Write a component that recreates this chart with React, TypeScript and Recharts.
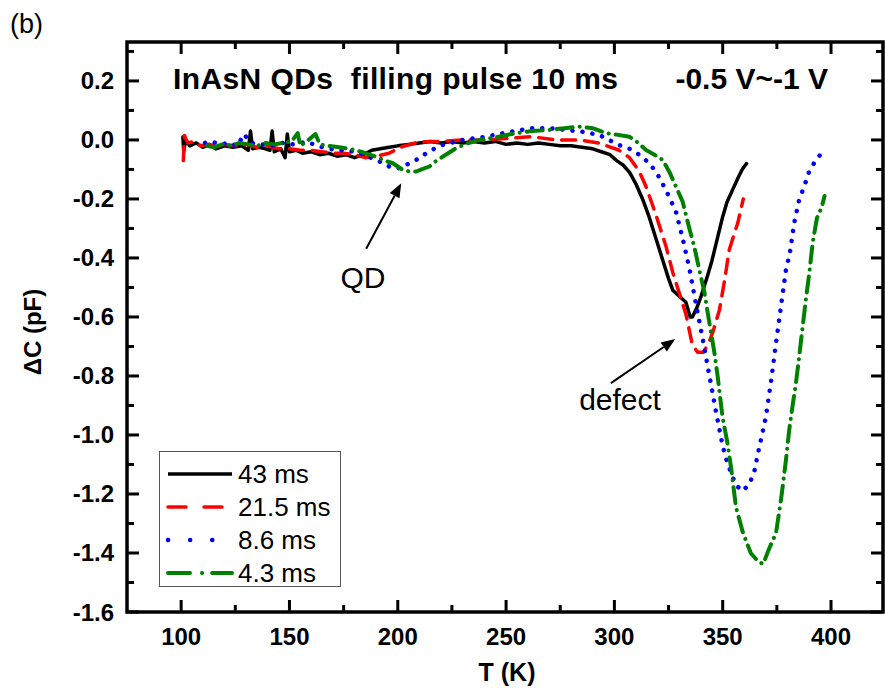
import { LineChart, Line, XAxis, YAxis, Legend, ReferenceLine } from 'recharts'

// temperature (K) and capacitance change (pF)
const T_43 = [100.8, 101.2, 102, 104, 107, 110, 113, 116, 120, 124, 128, 131, 132, 133, 136, 139, 141, 142, 143, 146, 148, 149, 150, 153, 156, 160, 164, 168, 172, 176, 180, 184, 188, 192, 196, 200, 205, 210, 215, 220, 225, 230, 235, 240, 245, 250, 255, 260, 265, 270, 275, 280, 285, 290, 294, 298, 301, 304, 307, 310, 313, 316, 319, 322, 325, 327, 330, 333, 335, 336, 338, 340, 343, 345, 348, 350, 352, 354.5, 357, 359, 361]
const C_43 = [0.01, -0.04, 0.0, -0.02, -0.01, -0.025, -0.015, -0.03, -0.02, -0.025, -0.02, -0.035, 0.03, -0.03, -0.025, -0.03, -0.035, 0.03, -0.04, -0.03, -0.06, 0.02, -0.04, -0.035, -0.045, -0.04, -0.05, -0.045, -0.055, -0.05, -0.06, -0.05, -0.035, -0.03, -0.025, -0.02, -0.015, -0.01, -0.005, -0.01, -0.005, -0.01, -0.005, -0.01, -0.005, -0.015, -0.01, -0.015, -0.01, -0.015, -0.02, -0.02, -0.025, -0.03, -0.04, -0.05, -0.07, -0.085, -0.11, -0.15, -0.2, -0.26, -0.33, -0.4, -0.47, -0.51, -0.53, -0.55, -0.6, -0.6, -0.57, -0.53, -0.46, -0.41, -0.32, -0.26, -0.21, -0.17, -0.13, -0.1, -0.08]

const T_215 = [101, 101.5, 103, 106, 109, 112, 116, 120, 125, 130, 135, 140, 145, 150, 155, 160, 165, 170, 175, 180, 185, 190, 196, 202, 210, 220, 230, 240, 250, 262, 273, 284, 293, 302, 307, 311.5, 314.6, 319, 323.8, 327, 330, 333, 336, 338.5, 341, 343.5, 345.5, 348.5, 351, 353, 357, 359.5]
const C_215 = [-0.07, 0.015, -0.01, -0.005, -0.02, -0.015, -0.02, -0.015, -0.02, -0.015, -0.025, -0.02, -0.03, -0.03, -0.035, -0.035, -0.04, -0.045, -0.045, -0.05, -0.06, -0.055, -0.045, -0.023, -0.006, -0.005, 0.0, 0.0, 0.005, 0.011, 0.0, 0.0, -0.011, -0.034, -0.06, -0.107, -0.158, -0.25, -0.36, -0.45, -0.52, -0.59, -0.695, -0.72, -0.72, -0.69, -0.65, -0.576, -0.47, -0.373, -0.28, -0.2]

const T_86 = [111, 114, 118, 122, 126, 129, 132, 137, 142, 147, 152, 158, 163, 168, 174, 181, 186, 191.5, 196, 199, 202, 205, 210, 214, 220.6, 230, 240.7, 250, 262, 270, 277.7, 285, 293, 302, 307, 311.5, 315.5, 319.2, 323.8, 328.4, 331.5, 334.6, 337.6, 340.7, 343.8, 346.9, 349.9, 352.2, 356.1, 359.2, 362.3, 364.6, 366.1, 368.1, 370, 372.3, 374.6, 376.9, 379.2, 381, 383, 385.3, 387.6, 389.9, 393, 396.9]
const C_86 = [-0.01, -0.005, -0.015, -0.01, -0.02, 0.02, -0.01, -0.015, -0.02, -0.01, -0.015, -0.006, -0.02, -0.03, -0.035, -0.04, -0.055, -0.073, -0.09, -0.096, -0.095, -0.08, -0.062, -0.04, -0.017, 0.0, 0.011, 0.025, 0.04, 0.04, 0.034, 0.028, 0.017, -0.017, -0.03, -0.05, -0.075, -0.107, -0.17, -0.243, -0.333, -0.435, -0.554, -0.672, -0.797, -0.921, -1.034, -1.096, -1.17, -1.19, -1.166, -1.124, -1.068, -1.002, -0.936, -0.819, -0.689, -0.565, -0.44, -0.384, -0.282, -0.203, -0.158, -0.107, -0.068, -0.034]

const T_43b = [112, 115, 119, 123, 127, 131, 135, 139, 143, 147, 151, 153.8, 155, 158, 162, 164, 168, 173, 178, 183, 187, 190, 194, 197.7, 202, 205.4, 208.4, 211, 214.6, 217, 220.7, 226.9, 232, 237.7, 246, 254.6, 262, 270, 277, 283.8, 290, 296, 301, 306.9, 311, 314.6, 318.5, 322.3, 325.5, 328.4, 331.5, 334.6, 336.9, 339.2, 341.5, 343.4, 346.1, 347.6, 349.9, 352.2, 353.8, 356.1, 359.2, 363, 366.5, 368.7, 371.5, 374.6, 376.9, 379.2, 380.7, 382.2, 383.8, 385.3, 386.8, 388.4, 390, 391.5, 393.5, 395.8, 397]
const C_43b = [-0.02, -0.025, -0.015, -0.02, -0.01, -0.015, -0.02, -0.01, -0.015, -0.01, -0.005, 0.023, -0.02, -0.005, 0.02, -0.015, -0.02, -0.025, -0.03, -0.04, -0.05, -0.057, -0.07, -0.079, -0.1, -0.107, -0.107, -0.1, -0.09, -0.075, -0.057, -0.028, -0.012, 0.0, 0.01, 0.023, 0.03, 0.034, 0.04, 0.045, 0.04, 0.023, 0.018, 0.011, -0.01, -0.034, -0.05, -0.068, -0.11, -0.158, -0.209, -0.3, -0.362, -0.44, -0.514, -0.6, -0.718, -0.797, -0.938, -1.028, -1.107, -1.243, -1.328, -1.401, -1.43, -1.437, -1.384, -1.333, -1.22, -1.085, -0.983, -0.904, -0.825, -0.735, -0.64, -0.54, -0.45, -0.35, -0.265, -0.226, -0.19]

const X_TICKS = [100, 125, 150, 175, 200, 225, 250, 275, 300, 325, 350, 375, 400]
const Y_TICKS = [-1.6, -1.5, -1.4, -1.3, -1.2, -1.1, -1.0, -0.9, -0.8, -0.7, -0.6, -0.5, -0.4, -0.3, -0.2, -0.1, 0.0, 0.1, 0.2, 0.3]

const toRows = (t: number[], c: number[]) => t.map((x, i) => ({ t: x, c: c[i] }))

const SERIES = [
    { name: '43 ms', data: toRows(T_43, C_43), color: '#000000', dash: undefined, legendDash: undefined, width: 3.5 },
    { name: '21.5 ms', data: toRows(T_215, C_215), color: '#ff0000', dash: '14 9', legendDash: '18 18', width: 3.5 },
    { name: '8.6 ms', data: toRows(T_86, C_86), color: '#0000ff', dash: '0.1 10', legendDash: '0.1 22', width: 4.5 },
    { name: '4.3 ms', data: toRows(T_43b, C_43b), color: '#008000', dash: '16 7 0.1 7', legendDash: '22 12 0.1 10', width: 4 },
]

const FONT = '"Liberation Sans", Arial, sans-serif'
const W = 885
const H = 693
const X_DOM = [75, 424]
const Y_DOM = [-1.6, 0.332]
const MARGIN = { top: 42, right: 2, bottom: 0, left: 0 }
const Y_AXIS_W = 127
const X_AXIS_H = 81
// plot box, same one Recharts lays out from the margins above
const PL = MARGIN.left + Y_AXIS_W
const PT = MARGIN.top
const PW = W - PL - MARGIN.right
const PH = H - X_AXIS_H - PT - MARGIN.bottom
const sx = (t: number) => PL + ((t - X_DOM[0]) / (X_DOM[1] - X_DOM[0])) * PW
const sy = (v: number) => PT + ((Y_DOM[1] - v) / (Y_DOM[1] - Y_DOM[0])) * PH

const isMajorY = (v: number) => Math.round(v * 10) % 2 === 0
const isMajorX = (v: number) => v % 50 === 0

function BottomLabel(props: any) {
    const { x, y, payload } = props
    if (!isMajorX(payload.value)) return <g />
    return (
        <text x={x} y={y + 33} textAnchor="middle" fontFamily={FONT} fontWeight={700} fontSize={24} fill="#000">
            {payload.value}
        </text>
    )
}

function LeftLabel(props: any) {
    const { x, y, payload } = props
    if (!isMajorY(payload.value)) return <g />
    return (
        <text x={x - 13} y={y + 8.5} textAnchor="end" fontFamily={FONT} fontWeight={700} fontSize={24} fill="#000">
            {payload.value.toFixed(1)}
        </text>
    )
}

function Arrow(props: any) {
    const { x1, y1, x2, y2 } = props
    const a = Math.atan2(y2 - y1, x2 - x1)
    const L = 14
    const hw = 5.5
    const bx = x2 - L * Math.cos(a)
    const by = y2 - L * Math.sin(a)
    const px = -Math.sin(a) * hw
    const py = Math.cos(a) * hw
    return (
        <g>
            <line x1={x1} y1={y1} x2={bx} y2={by} stroke="#000" strokeWidth={2} />
            <polygon points={`${x2},${y2} ${bx + px},${by + py} ${bx - px},${by - py}`} fill="#000" />
        </g>
    )
}

function LegendBox() {
    return (
        <div style={{ border: '1.5px solid #555', background: '#fff', width: 182, height: 136, boxSizing: 'border-box', padding: '5px 0 0 6px' }}>
            {SERIES.map((s) => (
                <div key={s.name} style={{ display: 'flex', alignItems: 'center', height: 33 }}>
                    <svg width={68} height={10} style={{ display: 'block' }}>
                        <line x1={2} y1={5} x2={66} y2={5} stroke={s.color} strokeWidth={s.width} strokeDasharray={s.legendDash} strokeLinecap={s.dash ? 'round' : 'butt'} />
                    </svg>
                    <span style={{ fontFamily: FONT, fontSize: 26, color: '#000', marginLeft: 4, lineHeight: 1 }}>{s.name}</span>
                </div>
            ))}
        </div>
    )
}

// box frame with inward ticks on all four sides
function Frame() {
    const bottom = PT + PH
    const right = PL + PW
    return (
        <g stroke="#000" fill="none">
            <rect x={PL} y={PT} width={PW} height={PH} strokeWidth={3.5} />
            {X_TICKS.map((t) => {
                const len = isMajorX(t) ? 12 : 7
                const x = sx(t)
                return (
                    <g key={`x${t}`} strokeWidth={3}>
                        <line x1={x} y1={bottom} x2={x} y2={bottom - len} />
                        <line x1={x} y1={PT} x2={x} y2={PT + len} />
                    </g>
                )
            })}
            {Y_TICKS.map((v) => {
                const len = isMajorY(v) ? 12 : 7
                const y = sy(v)
                return (
                    <g key={`y${v}`} strokeWidth={3}>
                        <line x1={PL} y1={y} x2={PL + len} y2={y} />
                        <line x1={right} y1={y} x2={right - len} y2={y} />
                    </g>
                )
            })}
        </g>
    )
}

const textStyle = { fontFamily: FONT, fill: '#000' }

export default function App() {
    return (
        <div style={{ position: 'absolute', left: 0, top: 0, width: W, height: H, background: '#fff' }}>
            <LineChart width={W} height={H} margin={MARGIN}>
                <XAxis type="number" dataKey="t" domain={X_DOM} ticks={X_TICKS} interval={0} height={X_AXIS_H} tickSize={0} tickMargin={0} tickLine={false} tick={BottomLabel} axisLine={false} allowDataOverflow />
                <YAxis type="number" dataKey="c" domain={Y_DOM} ticks={Y_TICKS} interval={0} width={Y_AXIS_W} tickSize={0} tickMargin={0} tickLine={false} tick={LeftLabel} axisLine={false} allowDataOverflow />
                {SERIES.map((s) => (
                    <Line
                        key={s.name}
                        data={s.data}
                        dataKey="c"
                        name={s.name}
                        type="linear"
                        stroke={s.color}
                        strokeWidth={s.width}
                        strokeDasharray={s.dash}
                        strokeLinecap="round"
                        strokeLinejoin="round"
                        dot={false}
                        activeDot={false}
                        isAnimationActive={false}
                    />
                ))}
                <ReferenceLine segment={[{ x: 185.4, y: -0.369 }, { x: 201.6, y: -0.147 }]} shape={Arrow} ifOverflow="visible" />
                <ReferenceLine segment={[{ x: 298.4, y: -0.824 }, { x: 328.1, y: -0.675 }]} shape={Arrow} ifOverflow="visible" />
                <Legend
                    layout="vertical"
                    align="center"
                    verticalAlign="middle"
                    content={() => <LegendBox />}
                    wrapperStyle={{ position: 'absolute', left: 159, top: 451, width: 182, height: 136 }}
                />
            </LineChart>
            <svg width={W} height={H} style={{ position: 'absolute', left: 0, top: 0, pointerEvents: 'none' }}>
                <Frame />
                <text x={10} y={33} fontSize={27} style={textStyle}>(b)</text>
                <text x={173} y={89} fontSize={30} fontWeight={700} letterSpacing={0.4} style={{ ...textStyle, whiteSpace: 'pre' }}>InAsN QDs  filling pulse 10 ms</text>
                <text x={828} y={89} fontSize={30} fontWeight={700} textAnchor="end" style={textStyle}>-0.5 V~-1 V</text>
                <text x={363} y={288} fontSize={30} textAnchor="middle" style={textStyle}>QD</text>
                <text x={620} y={410} fontSize={30} textAnchor="middle" style={textStyle}>defect</text>
                <text x={507} y={681} fontSize={25} fontWeight={700} textAnchor="middle" style={textStyle}>T (K)</text>
                <text x={41} y={332} fontSize={24} fontWeight={700} textAnchor="middle" transform="rotate(-90 41 332)" style={textStyle}>ΔC (pF)</text>
            </svg>
        </div>
    )
}
